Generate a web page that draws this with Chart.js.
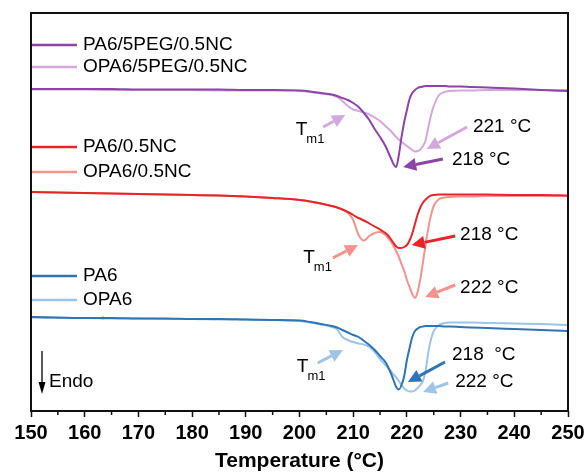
<!DOCTYPE html>
<html><head><meta charset="utf-8">
<script src="https://cdn.jsdelivr.net/npm/chart.js@4.4.0/dist/chart.umd.min.js"></script>
<style>html,body{margin:0;padding:0;background:#fff;}</style>
</head><body>
<canvas id="c" width="584" height="474"></canvas>
<script>
// Temperature grid (°C)
const temperature = [150,155,160,165,170,175,180,185,190,195,200,202,204,206,207,208,209,210,211,212,213,214,215,216,216.5,217,217.5,218,218.5,219,219.5,220,220.5,221,221.5,222,222.5,223,223.5,224,224.5,225,226,227,228,230,232,235,240,245,250];
// Heat flow (a.u., curves vertically offset)
const pa6PegNc = [322,322,322,322,321.5,321.5,321.5,321.5,321,321, 320.5,319.5,318,316.5, 315,313,311,308,304,298,291,282,274,265, 259,253,247,244,256,274,289,301,312,318,321,323,324,324.5,325,325,325,325, 325,325,324.5,324.5,324,323.5,322.5,321,320];
const opa6PegNc = [321.5,321.5,321.5,321,321,321,321,320.5,320.5,320.5, 320,319,317.5,316, 314,310,305,301.5,300,298.5,296.5,293.5,290,285, 282.5,280,277,274,271.5,269,267,265,263,261,259.5,260,261.5,265,271,284,296,305, 316,319,320,320.5,320.5,321,321,321,321];
const pa6Nc = [219,218.5,218,217.5,217,216.5,216,215.5,214.5,213, 211,209.5,207.5,205, 203.5,201.5,199,196,193,190.5,187.5,184.5,181.5,178, 175.5,172,168,164.5,163,163,164,166,170.5,177.5,187,196.5,203.5,208.5,211.5,214,215.5,216, 216.5,216.5,216.5,216.5,216.5,216.5,216,216,215.5];
const opa6Nc = [219,218.5,218,217.5,217,216.5,216,215.5,214.5,213, 211,209.5,207.5,205, 203.5,201.5,198,191,176,170.5,175,178,179,176, 173,169.5,165,160,154,147,140,131,124,117,113,119,132,149,167,183,196,205, 212,213.5,214,214.5,214.5,215,215,215,215];
const pa6 = [94,93.5,93,93,92.5,92.5,92,92,91.5,91, 90.5,89,87,85, 83.5,81,78.5,76,74,70,66,61,55,49, 44,38,31,24,21.5,26,35,51,63,74,80,82.5,84,84.5,85,85,85,85, 85,84.5,84.5,84,83.5,83,82,81,80];
const opa6 = [93.5,93,93,92.5,92.5,92,92,91.5,91.5,91, 90,88.5,86.5,84, 81.5,74,71,69,67.5,66.5,64,59,52,46, 43,40,36.5,33.5,30,26,22.5,20.5,19.5,19.5,20.5,23,26,30,41,59,72,80, 86,88,88.5,88.5,88.5,88,87.5,87,86];
const strayDot = [{x:163.4, y:93}];

const seriesNames = ['PA6/5PEG/0.5NC','OPA6/5PEG/0.5NC','PA6/0.5NC','OPA6/0.5NC','PA6','OPA6'];
const xTicks = [150,160,170,180,190,200,210,220,230,240,250];

const C = {dp:'#8C44A6', lp:'#D4A8DF', dr:'#E8242B', lr:'#F3938F', db:'#2F74B5', lb:'#9EC4E6'};
const FONT = '"Liberation Sans", Arial, Helvetica, sans-serif';

// annotations in data coordinates [T, heat flow]
const arrowNotes = [
  {from:[204.4,284], to:[208.5,296], c:C.lp},
  {from:[231.2,284], to:[223.7,262], c:C.lp},
  {from:[226.7,252], to:[219.3,244], c:C.dp},
  {from:[206.2,153], to:[210.9,166], c:C.lr},
  {from:[229.0,175], to:[220.9,166], c:C.dr},
  {from:[229.0,126], to:[223.4,114], c:C.lr},
  {from:[203.4,48],  to:[208.1,61],  c:C.lb},
  {from:[227.1,49],  to:[220.2,29],  c:C.db},
  {from:[227.7,28],  to:[223.0,19],  c:C.lb}
];
const labelNotes = [
  {t:'221 °C', at:[232.3,284]},
  {t:'218 °C', at:[228.4,251]},
  {t:'218 °C', at:[229.9,176]},
  {t:'222 °C', at:[229.9,123]},
  {t:'218  °C', at:[228.4,56]},
  {t:'222 °C', at:[229.0,29]}
];
const tmNotes = [[199.3,281],[200.7,153],[199.5,44]];

const names = seriesNames;
const mk = (vals) => temperature.map((t,i)=>({x:t, y:vals[i]}));
const ds = (label, vals, color) => ({label, data:mk(vals), borderColor:color, backgroundColor:color, borderWidth:2, pointRadius:0, cubicInterpolationMode:'monotone', fill:false});

function drawArrow(ctx, x1,y1,x2,y2,color){
  const ang = Math.atan2(y2-y1, x2-x1), L=13, W=6.5;
  const bx = x2 - L*Math.cos(ang), by = y2 - L*Math.sin(ang);
  ctx.strokeStyle=color; ctx.fillStyle=color; ctx.lineWidth=3; ctx.lineCap='butt';
  ctx.beginPath(); ctx.moveTo(x1,y1); ctx.lineTo(bx,by); ctx.stroke();
  ctx.beginPath(); ctx.moveTo(x2,y2);
  ctx.lineTo(bx + W*Math.sin(ang), by - W*Math.cos(ang));
  ctx.lineTo(bx - W*Math.sin(ang), by + W*Math.cos(ang));
  ctx.closePath(); ctx.fill();
}

const overlay = {
  id:'overlay',
  afterDraw(chart){
    const {ctx, chartArea:a, scales:{x,y}} = chart;
    ctx.save();
    arrowNotes.forEach(n=>drawArrow(ctx, x.getPixelForValue(n.from[0]), y.getPixelForValue(n.from[1]), x.getPixelForValue(n.to[0]), y.getPixelForValue(n.to[1]), n.c));
    ctx.fillStyle='#000'; ctx.textAlign='left'; ctx.textBaseline='middle';
    ctx.font='19px '+FONT;
    labelNotes.forEach(n=>ctx.fillText(n.t, x.getPixelForValue(n.at[0]), y.getPixelForValue(n.at[1])));
    tmNotes.forEach(p=>{
      const px=x.getPixelForValue(p[0]), py=y.getPixelForValue(p[1]);
      ctx.font='19px '+FONT; ctx.fillText('T',px,py);
      const w=ctx.measureText('T').width;
      ctx.font='13px '+FONT; ctx.fillText('m1',px+w-1,py+9);
    });
    // legend
    const legendY=[32,54,134,159,263,287];
    const cols=[C.dp,C.lp,C.dr,C.lr,C.db,C.lb];
    ctx.font='19px '+FONT;
    names.forEach((n,i)=>{
      const yy=a.top+legendY[i];
      ctx.strokeStyle=cols[i]; ctx.lineWidth=2.5;
      ctx.beginPath(); ctx.moveTo(a.left,yy); ctx.lineTo(a.left+46,yy); ctx.stroke();
      ctx.fillStyle='#000'; ctx.fillText(n, a.left+52, yy);
    });
    // Endo arrow
    const ex=a.left+11;
    ctx.strokeStyle='#000'; ctx.fillStyle='#000'; ctx.lineWidth=1.3;
    ctx.beginPath(); ctx.moveTo(ex,a.top+338); ctx.lineTo(ex,a.top+372); ctx.stroke();
    ctx.beginPath(); ctx.moveTo(ex,a.top+381); ctx.lineTo(ex-3.5,a.top+369); ctx.lineTo(ex+3.5,a.top+369); ctx.closePath(); ctx.fill();
    ctx.font='19px '+FONT; ctx.fillText('Endo', a.left+18, a.top+369);
    // frame
    ctx.strokeStyle='#111'; ctx.lineWidth=2;
    ctx.strokeRect(a.left,a.top,a.right-a.left,a.bottom-a.top);
    // minor ticks
    ctx.lineWidth=1.5;
    for(let v=155; v<250; v+=10){
      const px=x.getPixelForValue(v);
      ctx.beginPath(); ctx.moveTo(px,a.bottom); ctx.lineTo(px,a.bottom+4); ctx.stroke();
    }
    ctx.restore();
  }
};

new Chart(document.getElementById('c'), {
  type:'line',
  data:{datasets:[
    ds(names[0], pa6PegNc, C.dp),
    ds(names[2], pa6Nc, C.dr),
    ds(names[4], pa6, C.db),
    ds(names[1], opa6PegNc, C.lp),
    ds(names[3], opa6Nc, C.lr),
    ds(names[5], opa6, C.lb),
    {label:'dot', data:strayDot, showLine:false, pointRadius:1.8, pointBackgroundColor:'#9ACD32', pointBorderWidth:0}
  ]},
  options:{
    responsive:false, animation:false, devicePixelRatio:1,
    layout:{padding:{left:31, right:16, top:13, bottom:0}},
    plugins:{legend:{display:false}, tooltip:{enabled:false}},
    scales:{
      x:{type:'linear', min:150, max:250,
        afterBuildTicks:s=>{s.ticks = xTicks.map(v=>({value:v}));},
        afterFit:s=>{s.height=63; s.paddingLeft=0; s.paddingRight=0;},
        ticks:{color:'#000', font:{family:FONT, size:20, weight:'bold'}, padding:4, maxRotation:0, autoSkip:false},
        grid:{drawOnChartArea:false, tickLength:6, tickWidth:1.5, tickColor:'#111'},
        border:{display:false},
        title:{display:true, text:'Temperature (°C)', color:'#000', font:{family:FONT, size:21, weight:'bold'}, padding:{top:0,bottom:0}}
      },
      y:{display:false, min:0, max:398}
    }
  },
  plugins:[overlay]
});
</script>
</body></html>
